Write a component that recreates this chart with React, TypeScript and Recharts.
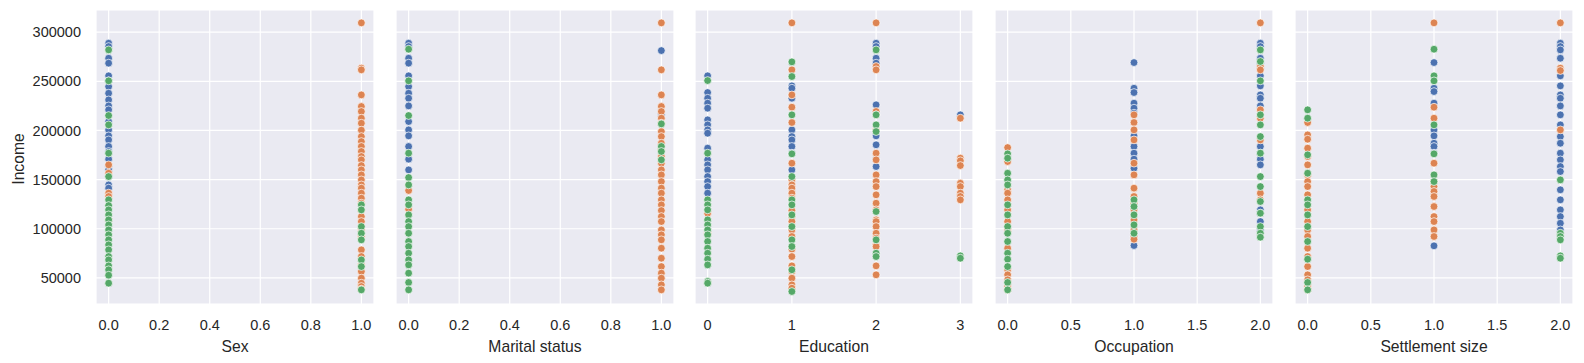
import React from "react";
import { ScatterChart, Scatter, XAxis, YAxis, CartesianGrid } from "recharts";

// Income values per category index (index = x value), per cluster
const sexBlue: number[][] = [
  [288800, 285400, 273500, 268500, 255600, 250500, 244700, 237900, 231100, 225000, 221000, 209100, 200600, 194500, 190400, 183700, 178600, 170800, 163300, 159900, 153100, 144600, 141300],
  [],
];
const sexOrange: number[][] = [
  [165000, 156500, 136200, 132800, 109000],
  [309500, 263400, 261700, 236200, 224400, 219300, 212500, 207400, 200300, 193800, 188700, 183700, 178600, 173500, 170100, 164300, 159900, 154800, 149700, 144600, 141300, 136200, 131100, 126000, 118500, 112400, 107300, 98800, 92100, 78500, 71700, 63200, 56500, 49700, 44600, 41200, 38500],
];
const sexGreen: number[][] = [
  [282000, 250500, 215200, 205700, 176900, 153100, 129400, 123600, 119200, 114100, 109000, 103900, 98800, 93800, 88700, 83600, 78500, 71700, 68300, 62200, 58200, 52700, 44600],
  [124300, 119200, 102200, 95400, 88700, 68300, 61500, 37800],
];

const maritalBlue: number[][] = [
  [288800, 285400, 273500, 268500, 255600, 244700, 237900, 232800, 225000, 209100, 200600, 194500, 183700, 170800, 159900],
  [281300, 215900],
];
const maritalOrange: number[][] = [
  [138900, 119900],
  [309500, 261700, 236200, 224400, 219300, 212500, 207400, 198900, 193800, 187000, 180300, 173500, 166700, 159900, 154800, 148000, 141300, 136200, 129400, 124300, 118500, 112400, 107300, 98800, 93800, 88700, 80200, 70000, 61500, 54800, 49700, 42900, 37800],
];
const maritalGreen: number[][] = [
  [282700, 250500, 215200, 176900, 152100, 144600, 129400, 124300, 114100, 107300, 102200, 95400, 87000, 81900, 75100, 68300, 63200, 54800, 45300, 37800],
  [206700, 183700, 178600, 170100],
];

const eduBlue: number[][] = [
  [255600, 238600, 232800, 227800, 222700, 210800, 205700, 200600, 197200, 182000, 170100, 165000, 159900, 153100, 148000, 142900, 136200],
  [245400, 243000, 232800, 200600, 193800, 190400, 183700, 176900, 159900],
  [288800, 285400, 273500, 268500, 226100, 194500, 185400, 170800, 163300],
  [215900],
];
const eduOrange: number[][] = [
  [115800, 95400],
  [309500, 261700, 236200, 223700, 208100, 166700, 149700, 144600, 141300, 136200, 131100, 118500, 112400, 107300, 98800, 92100, 79200, 71700, 62200, 56500, 49700, 42900, 39500],
  [309500, 265100, 261700, 219300, 215900, 200600, 176900, 170100, 154800, 148000, 142900, 134500, 126000, 119200, 109000, 107300, 102200, 95400, 90400, 83600, 81900, 62200, 53100],
  [212500, 171800, 169100, 164300, 146300, 142900, 136200, 132800, 129400],
];
const eduGreen: number[][] = [
  [250800, 176900, 129400, 124300, 119200, 109000, 103900, 98800, 93800, 87000, 80200, 75100, 69000, 63200, 46300, 44600],
  [269800, 254900, 215900, 176200, 153100, 129400, 124300, 114100, 102200, 88700, 81900, 58200, 36100],
  [282000, 215900, 205700, 198900, 117500, 88700, 75100, 71700],
  [72400, 70000],
];

const occBlue: number[][] = [
  [],
  [269100, 243000, 238600, 227800, 222700, 217600, 194500, 183700, 176900, 170800, 161600, 82900],
  [288800, 285400, 273500, 268500, 263400, 255600, 245400, 236200, 232800, 225000, 183700, 176900, 170800, 165000, 119200, 115800, 107300, 98800],
];
const occOrange: number[][] = [
  [182600, 168400, 139600, 136200, 129400, 119200, 107300, 98800, 80200, 58200, 53100, 48000, 41200, 37800],
  [215900, 208100, 200600, 190400, 166700, 154800, 141300, 132800, 126000, 119200, 109000, 98800, 92100, 89300],
  [309500, 265100, 261700, 221000, 212500, 190400, 136200, 129400],
];
const occGreen: number[][] = [
  [176200, 171800, 156500, 149700, 144600, 124300, 114100, 102200, 95400, 87000, 75100, 69000, 61500, 45300, 37800],
  [129400, 122600, 114100, 103900, 95400],
  [282000, 270200, 250500, 215900, 205700, 193800, 176900, 153100, 142900, 127700, 115800, 102200, 95400, 91400],
];

const setBlue: number[][] = [
  [],
  [269100, 243000, 239600, 227800, 200600, 194500, 187000, 183700, 176900, 82600],
  [288800, 285400, 282000, 273500, 255600, 245400, 236200, 232800, 225000, 215900, 205700, 193800, 187000, 176900, 170100, 163300, 158200, 139600, 129400, 119200, 112400, 105600, 98800],
];
const setOrange: number[][] = [
  [208100, 195500, 191100, 182000, 173500, 165000, 154800, 148000, 142900, 134500, 119200, 107300, 98800, 92100, 80200, 71700, 61500, 53100, 48000, 41200, 37800],
  [309500, 223700, 212500, 166700, 148000, 142900, 137900, 132800, 122600, 112400, 107300, 98800, 92100],
  [309500, 263400, 261000, 200600],
];
const setGreen: number[][] = [
  [221000, 212500, 175200, 156500, 129400, 124300, 114100, 102200, 87000, 69000, 45300, 37800],
  [282700, 255600, 250500, 205700, 176200, 154800, 148000],
  [149700, 95400, 92100, 88700, 72400, 70000],
];

const incomeTicks = [50000, 100000, 150000, 200000, 250000, 300000];
const binaryTicks = [0, 0.2, 0.4, 0.6, 0.8, 1.0];
const eduTicks = [0, 1, 2, 3];
const triTicks = [0, 0.5, 1.0, 1.5, 2.0];

const BLUE = "#4C72B0";
const ORANGE = "#DD8452";
const GREEN = "#55A868";
const TEXT = "#262626";
const FONT = "'Liberation Sans', Arial, sans-serif";

const toPoints = (arr: number[][]) =>
  arr.flatMap((vals, xi) => vals.map((v) => ({ x: xi, y: v })));

const dot = (color: string) => (p: any) =>
  p.cx == null ? <g /> : (
    <circle cx={p.cx} cy={p.cy} r={3.9} fill={color} stroke="#ffffff" strokeWidth={0.7} />
  );

type Panel = {
  label: string;
  ticks: number[];
  domain: [number, number];
  fmt: (v: number) => string;
  series: [number[][], number[][], number[][]];
  left: number;
};

const fixed1 = (v: number) => v.toFixed(1);
const intFmt = (v: number) => String(v);

const panels: Panel[] = [
  { label: "Sex", ticks: binaryTicks, domain: [-0.05, 1.05], fmt: fixed1, series: [sexBlue, sexOrange, sexGreen], left: 96 },
  { label: "Marital status", ticks: binaryTicks, domain: [-0.05, 1.05], fmt: fixed1, series: [maritalBlue, maritalOrange, maritalGreen], left: 396 },
  { label: "Education", ticks: eduTicks, domain: [-0.15, 3.15], fmt: intFmt, series: [eduBlue, eduOrange, eduGreen], left: 695 },
  { label: "Occupation", ticks: triTicks, domain: [-0.1, 2.1], fmt: fixed1, series: [occBlue, occOrange, occGreen], left: 995 },
  { label: "Settlement size", ticks: triTicks, domain: [-0.1, 2.1], fmt: fixed1, series: [setBlue, setOrange, setGreen], left: 1295 },
];

const PLOT_W = 278;
const H = 363;
const TOP = 10;
const XAXIS_H = 59;
const YAXIS_W = 96;

function PanelChart({ panel, first }: { panel: Panel; first: boolean }) {
  const chartLeft = first ? 0 : panel.left;
  const width = first ? YAXIS_W + PLOT_W + 6 : PLOT_W + 6;
  const colors = [BLUE, ORANGE, GREEN];
  return (
    <div style={{ position: "absolute", left: chartLeft, top: 0 }}>
      <ScatterChart width={width} height={H} margin={{ top: TOP, right: 6, left: 0, bottom: 0 }}>
        <CartesianGrid fill="#EAEAF2" stroke="#ffffff" strokeWidth={1.2} />
        <XAxis
          type="number"
          dataKey="x"
          domain={panel.domain}
          ticks={panel.ticks}
          interval={0}
          allowDataOverflow
          height={XAXIS_H}
          axisLine={false}
          tickLine={false}
          tickSize={6}
          tickMargin={10}
          tickFormatter={panel.fmt}
          tick={{ fill: TEXT, fontSize: 14.5, fontFamily: FONT }}
          label={(p: any) => {
            const vb = p.viewBox || {};
            return (
              <text
                x={(vb.x ?? 0) + (vb.width ?? PLOT_W) / 2}
                y={351.5}
                textAnchor="middle"
                fill={TEXT}
                fontSize={15.7}
                fontFamily={FONT}
              >
                {panel.label}
              </text>
            );
          }}
        />
        <YAxis
          type="number"
          dataKey="y"
          domain={[23400, 322600]}
          ticks={incomeTicks}
          interval={0}
          allowDataOverflow
          hide={!first}
          width={first ? YAXIS_W : 0}
          axisLine={false}
          tickLine={false}
          tickSize={6}
          tickMargin={9}
          tick={{ fill: TEXT, fontSize: 14.5, fontFamily: FONT }}
          label={
            first
              ? () => (
                  <text
                    x={23.5}
                    y={159}
                    transform="rotate(-90 23.5 159)"
                    textAnchor="middle"
                    fill={TEXT}
                    fontSize={15.7}
                    fontFamily={FONT}
                  >
                    Income
                  </text>
                )
              : undefined
          }
        />
        {panel.series.map((s, i) => (
          <Scatter
            key={i}
            data={toPoints(s)}
            isAnimationActive={false}
            shape={dot(colors[i])}
          />
        ))}
      </ScatterChart>
    </div>
  );
}

export default function App() {
  return (
    <div style={{ position: "absolute", left: 0, top: 0, width: 1584, height: H, background: "#ffffff" }}>
      {panels.map((p, i) => (
        <PanelChart key={p.label} panel={p} first={i === 0} />
      ))}
    </div>
  );
}
